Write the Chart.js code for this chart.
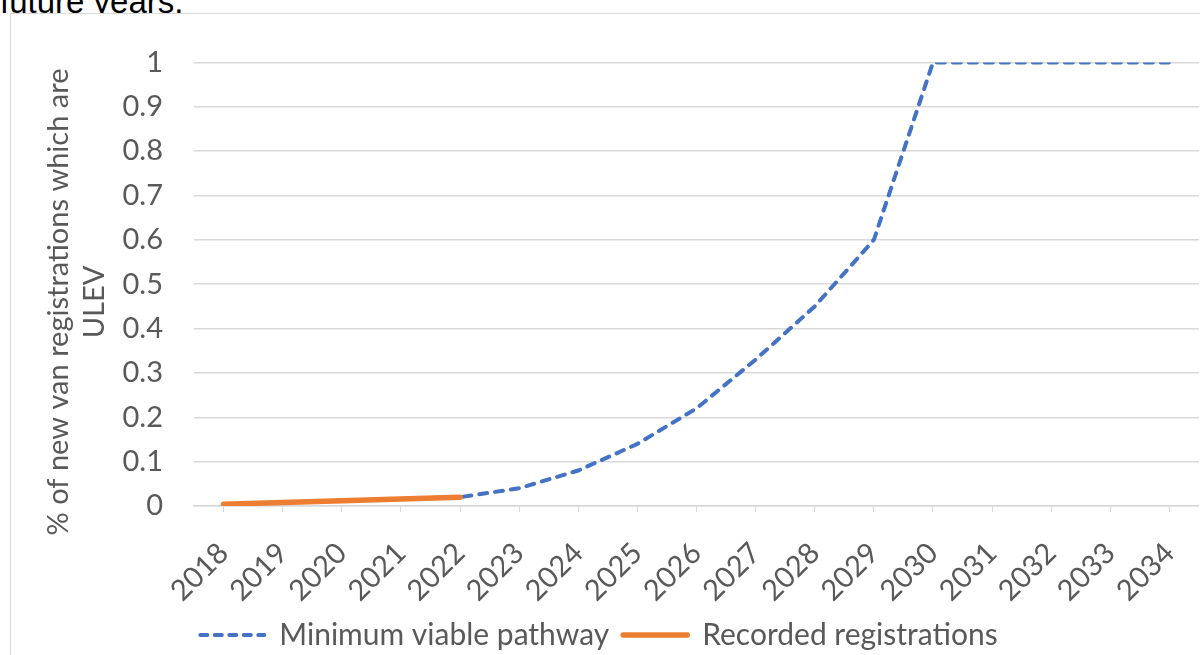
<!DOCTYPE html>
<html>
<head>
<meta charset="utf-8">
<script src="https://cdn.jsdelivr.net/npm/chart.js@4"></script>
<style>
  body { margin: 0; background: #fff; overflow: hidden; }
  .intro {
    position: absolute; left: 0; top: -17px;
    font-family: 'Liberation Sans', Arial, sans-serif; font-size: 33px; color: #000;
  }
  .frame {
    position: absolute; left: 10px; top: 13px; width: 1210px; height: 680px;
    border: 1px solid #d9d9d9; background: #fff;
  }
  #vanChart { position: absolute; left: -12px; top: 0; }
</style>
</head>
<body>
<div class="intro">future years.</div>
<div class="frame">
  <canvas id="vanChart" width="1200" height="660"></canvas>
</div>
<script>
const years = ['2018', '2019', '2020', '2021', '2022', '2023', '2024', '2025', '2026',
               '2027', '2028', '2029', '2030', '2031', '2032', '2033', '2034'];
const pathway = [0.004, 0.008, 0.012, 0.016, 0.02, 0.04, 0.08, 0.14, 0.22,
                 0.33, 0.45, 0.6, 1, 1, 1, 1, 1];
const recorded = [0.004, 0.008, 0.012, 0.016, 0.02];
const yTicks = [0, 0.1, 0.2, 0.3, 0.4, 0.5, 0.6, 0.7, 0.8, 0.9, 1];
const yTitle = ['% of new van registrations which are', 'ULEV'];

const labelFont = { family: 'Lato', size: 29 };
const legendFont = { family: 'Lato', size: 30 };
const grey = '#595959';

// y axis title drawn by hand so it can sit a bit lower than the plot centre, like Excel does
const yTitlePlugin = {
    id: 'yTitle',
    afterDraw(chart) {
        const c = chart.ctx;
        c.save();
        c.translate(0, 288);
        c.rotate(-Math.PI / 2);
        c.font = '29px Lato';
        c.fillStyle = grey;
        c.textAlign = 'center';
        c.textBaseline = 'middle';
        yTitle.forEach((line, i) => c.fillText(line, 0, 60 + i * 36));
        c.restore();
    }
};

const ctx = document.getElementById('vanChart').getContext('2d');
new Chart(ctx, {
    type: 'line',
    data: {
        labels: years,
        datasets: [
            {
                label: 'Minimum viable pathway',
                data: pathway,
                borderColor: '#4472c4',
                backgroundColor: '#4472c4',
                borderWidth: 4,
                borderDash: [8, 8],
                borderCapStyle: 'round',
                pointRadius: 0,
                tension: 0,
                order: 2
            },
            {
                label: 'Recorded registrations',
                data: recorded,
                borderColor: '#ed7d31',
                backgroundColor: '#ed7d31',
                borderWidth: 5.5,
                borderCapStyle: 'round',
                pointRadius: 0,
                tension: 0,
                order: 1
            }
        ]
    },
    plugins: [yTitlePlugin],
    options: {
        responsive: false,
        animation: false,
        layout: { padding: { top: 48, right: 0, bottom: 14, left: 0 } },
        plugins: {
            tooltip: { enabled: false },
            legend: {
                position: 'bottom',
                labels: {
                    font: legendFont,
                    color: grey,
                    usePointStyle: true,
                    pointStyleWidth: 64,
                    padding: 14,
                    generateLabels: chart => chart.data.datasets.map((ds, i) => ({
                        text: ds.label,
                        pointStyle: 'line',
                        strokeStyle: ds.borderColor,
                        fillStyle: ds.borderColor,
                        lineWidth: ds.borderWidth,
                        lineDash: ds.borderDash ? [7, 7.5] : [],
                        lineCap: 'round',
                        fontColor: grey,
                        datasetIndex: i
                    }))
                }
            }
        },
        scales: {
            x: {
                offset: true,
                afterFit: scale => {
                    scale.height = 100;
                    scale.paddingLeft = 0;
                    scale.paddingRight = 0;
                },
                grid: { offset: false, drawOnChartArea: false, drawTicks: true, tickLength: 6, color: '#d9d9d9' },
                border: { color: '#d9d9d9', width: 1.5 },
                ticks: { font: labelFont, color: grey, maxRotation: 45, minRotation: 45, padding: 24 }
            },
            y: {
                min: 0,
                max: 1,
                afterFit: scale => { scale.width = 195; },
                afterBuildTicks: scale => { scale.ticks = yTicks.map(v => ({ value: v })); },
                grid: { color: '#d9d9d9', lineWidth: 1.5, drawTicks: false },
                border: { display: false },
                ticks: {
                    font: labelFont,
                    color: grey,
                    padding: 31,
                    callback: v => String(+v.toFixed(1))
                }
            }
        }
    }
});
</script>
</body>
</html>
